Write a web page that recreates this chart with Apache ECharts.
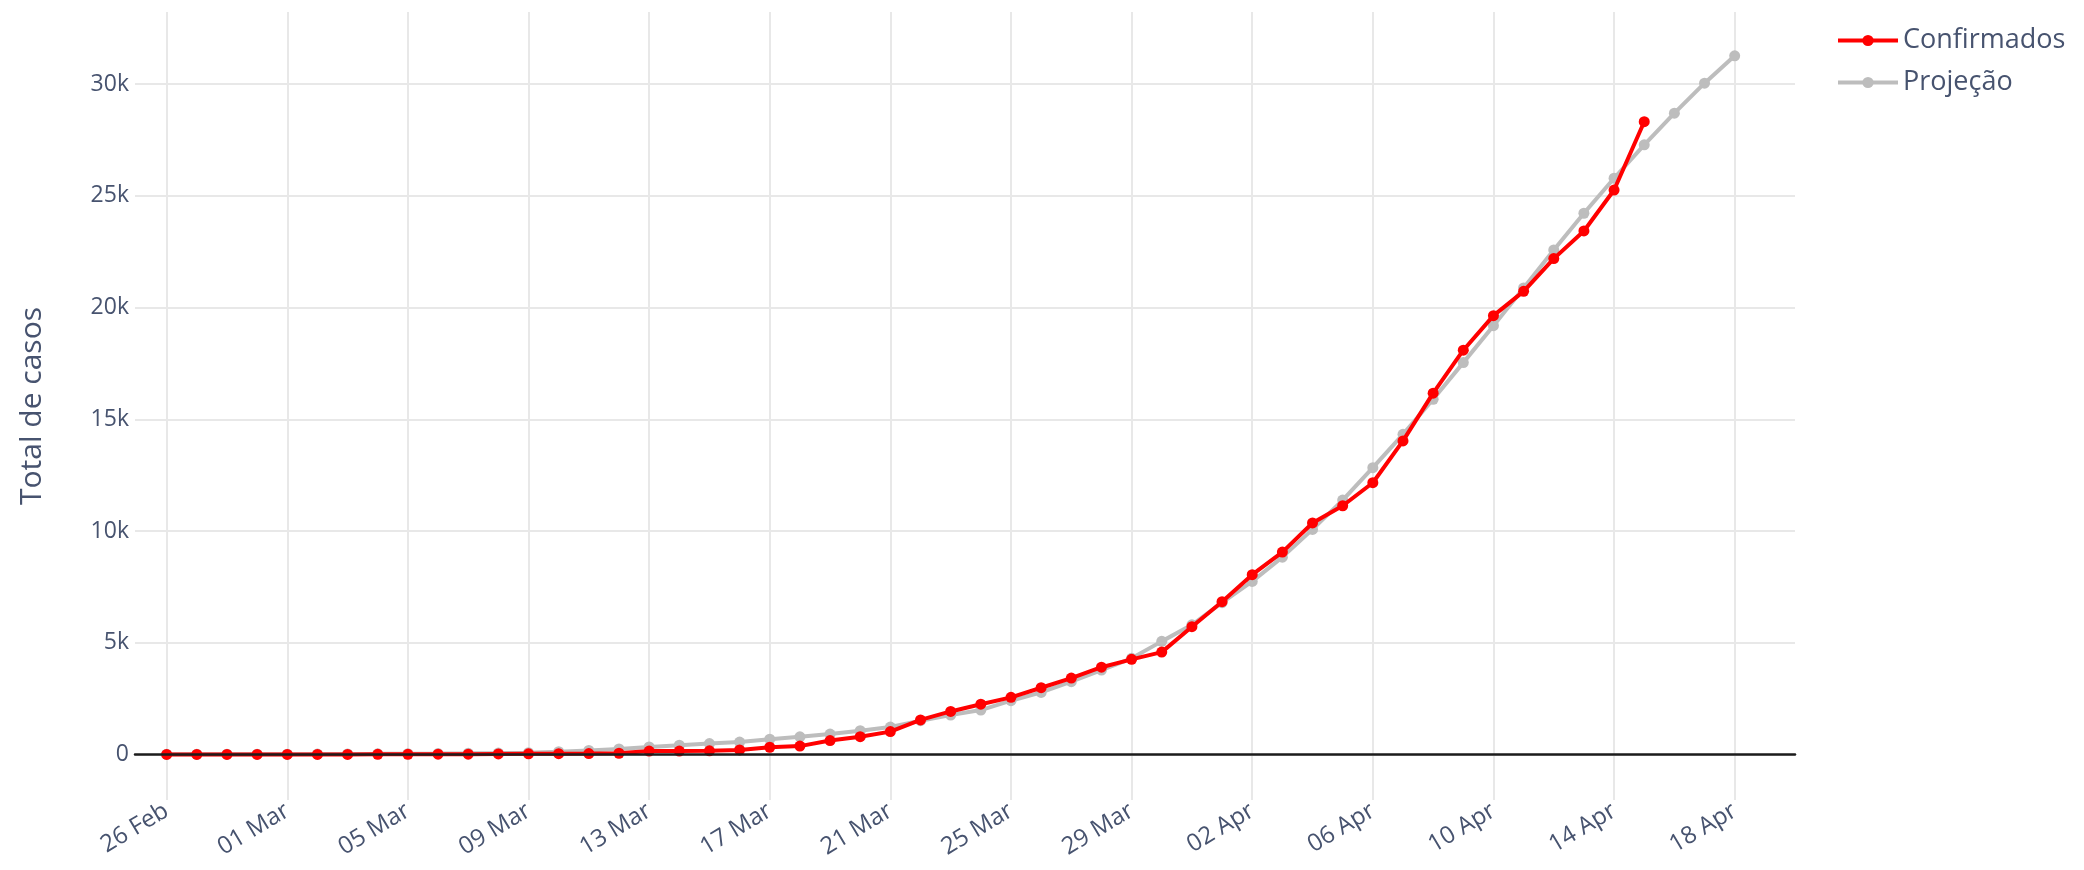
<!DOCTYPE html>
<html>
<head>
<meta charset="utf-8">
<script src="https://cdn.jsdelivr.net/npm/echarts@6/dist/echarts.min.js"></script>
<style>
html,body{margin:0;padding:0;background:#ffffff;}
#chart{width:2084px;height:870px;}
</style>
</head>
<body>
<div id="chart"></div>
<script>
// ---- Data ----
const dates = [
  '2020-02-26','2020-02-27','2020-02-28','2020-02-29',
  '2020-03-01','2020-03-02','2020-03-03','2020-03-04','2020-03-05','2020-03-06','2020-03-07','2020-03-08','2020-03-09','2020-03-10',
  '2020-03-11','2020-03-12','2020-03-13','2020-03-14','2020-03-15','2020-03-16','2020-03-17','2020-03-18','2020-03-19','2020-03-20',
  '2020-03-21','2020-03-22','2020-03-23','2020-03-24','2020-03-25','2020-03-26','2020-03-27','2020-03-28','2020-03-29','2020-03-30','2020-03-31',
  '2020-04-01','2020-04-02','2020-04-03','2020-04-04','2020-04-05','2020-04-06','2020-04-07','2020-04-08','2020-04-09','2020-04-10',
  '2020-04-11','2020-04-12','2020-04-13','2020-04-14','2020-04-15','2020-04-16','2020-04-17','2020-04-18'
];

const confirmados = [
  1, 1, 1, 2,
  2, 2, 2, 4, 4, 13, 13, 20, 25, 31,
  38, 52, 151, 151, 162, 200, 321, 372, 621, 793,
  1021, 1546, 1924, 2247, 2554, 2985, 3417, 3904, 4256, 4579, 5717,
  6836, 8044, 9056, 10360, 11130, 12161, 14034, 16170, 18092, 19638,
  20727, 22192, 23430, 25262, 28320
];

const projecao = [
  6, 7, 9, 11,
  13, 16, 20, 25, 31, 39, 48, 62, 80, 120,
  180, 245, 335, 410, 485, 552, 680, 790, 911, 1060,
  1224, 1508, 1762, 1986, 2404, 2777, 3255, 3777, 4300, 5060, 5800,
  6790, 7745, 8830, 10072, 11385, 12834, 14327, 15895, 17537, 19190,
  20880, 22580, 24222, 25790, 27283, 28701, 30045, 31269
];

const xTickDates = ['2020-02-26','2020-03-01','2020-03-05','2020-03-09','2020-03-13','2020-03-17','2020-03-21',
  '2020-03-25','2020-03-29','2020-04-02','2020-04-06','2020-04-10','2020-04-14','2020-04-18'];
const xTickLabels = ['26 Feb','01 Mar','05 Mar','09 Mar','13 Mar','17 Mar','21 Mar',
  '25 Mar','29 Mar','02 Apr','06 Apr','10 Apr','14 Apr','18 Apr'];

const yTickValues = [0, 5000, 10000, 15000, 20000, 25000, 30000];
const yTickLabels = ['0', '5k', '10k', '15k', '20k', '25k', '30k'];

// ---- Helpers: dates -> day number counted from the first date ----
function dayNum(s) {
  const p = s.split('-');
  const t = Date.UTC(+p[0], +p[1] - 1, +p[2]);
  const p0 = dates[0].split('-');
  const t0 = Date.UTC(+p0[0], +p0[1] - 1, +p0[2]);
  return Math.round((t - t0) / 86400000);
}
const xTickDays = xTickDates.map(dayNum);
const xMin = -1.05;
const xMax = dayNum('2020-04-20');
const yMin = -2040;
const yMax = 33230;

const confData = confirmados.map((v, i) => [dayNum(dates[i]), v]);
const projData = projecao.map((v, i) => [dayNum(dates[i]), v]);

const textColor = '#47536f';
const gridColor = '#e8e8e8';
const FONT = '"Open Sans", "Noto Sans", sans-serif';

const chart = echarts.init(document.getElementById('chart'), null, { renderer: 'canvas' });

chart.setOption({
  animation: false,
  backgroundColor: '#ffffff',
  textStyle: { fontFamily: FONT },
  grid: { left: 135, right: 289, top: 12, bottom: 70, containLabel: false },
  legend: {
    orient: 'vertical',
    left: 1831,
    top: 22,
    itemWidth: 60,
    itemHeight: 14,
    itemGap: 15,
    data: ['Confirmados', 'Projeção'],
    lineStyle: { width: 4 },
    textStyle: { fontSize: 27, color: textColor, fontFamily: FONT }
  },
  xAxis: [
    {
      type: 'value',
      min: xMin,
      max: xMax,
      position: 'bottom',
      axisLine: { show: false, onZero: false },
      axisTick: { show: false, customValues: xTickDays },
      axisLabel: {
        customValues: xTickDays,
        rotate: 31,
        margin: 9,
        fontSize: 24,
        color: textColor,
        fontFamily: FONT,
        hideOverlap: false,
        showMinLabel: true,
        showMaxLabel: true,
        formatter: function (v) {
          const i = xTickDays.indexOf(Math.round(v));
          return i >= 0 ? xTickLabels[i] : '';
        }
      },
      splitLine: { show: true, lineStyle: { color: gridColor, width: 2 } }
    },
    {
      type: 'value',
      min: xMin,
      max: xMax,
      position: 'bottom',
      z: 10,
      axisLine: { show: true, onZero: true, lineStyle: { color: '#1c1c1c', width: 2.5 } },
      axisTick: { show: false },
      axisLabel: { show: false },
      splitLine: { show: false }
    }
  ],
  yAxis: {
    type: 'value',
    min: yMin,
    max: yMax,
    axisLine: { show: false },
    axisTick: { show: false, customValues: yTickValues },
    axisLabel: {
      customValues: yTickValues,
      fontSize: 23,
      color: textColor,
      fontFamily: FONT,
      margin: 6,
      formatter: function (v) {
        const i = yTickValues.indexOf(v);
        return i >= 0 ? yTickLabels[i] : '';
      }
    },
    splitLine: { show: true, lineStyle: { color: gridColor, width: 2 } },
    name: 'Total de casos',
    nameLocation: 'middle',
    nameRotate: 90,
    nameGap: 88,
    nameTextStyle: { fontSize: 30, color: textColor, fontFamily: FONT }
  },
  series: [
    {
      name: 'Confirmados',
      type: 'line',
      xAxisIndex: 0,
      data: confData,
      z: 4,
      symbol: 'circle',
      symbolSize: 11,
      showSymbol: true,
      showAllSymbol: true,
      lineStyle: { color: '#ff0000', width: 4 },
      itemStyle: { color: '#ff0000' }
    },
    {
      name: 'Projeção',
      type: 'line',
      xAxisIndex: 0,
      data: projData,
      z: 3,
      symbol: 'circle',
      symbolSize: 11,
      showSymbol: true,
      showAllSymbol: true,
      lineStyle: { color: '#bdbdbd', width: 4 },
      itemStyle: { color: '#bdbdbd' }
    }
  ]
});
</script>
</body>
</html>
